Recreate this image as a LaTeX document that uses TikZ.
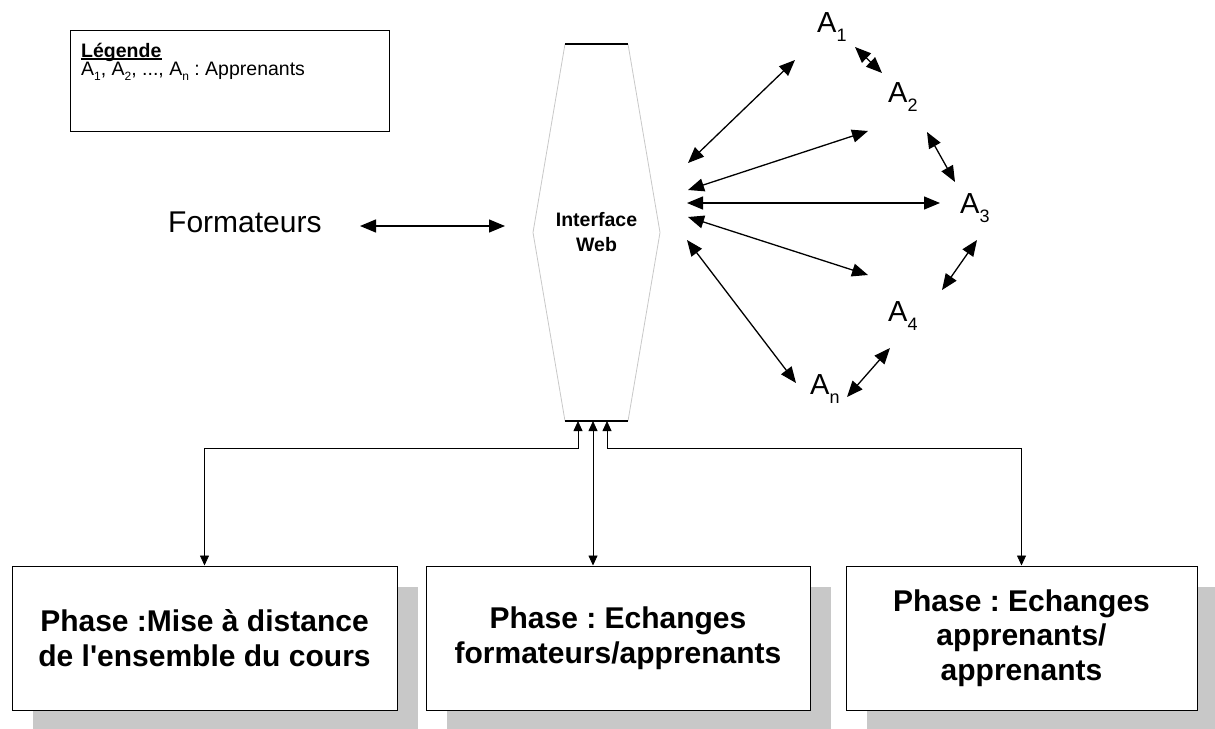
\documentclass[tikz,border=0pt]{standalone}
\usepackage{fontspec}
\setmainfont{Liberation Sans}
\usetikzlibrary{arrows.meta,shadows}
\definecolor{shadowgray}{RGB}{200,200,200}
\definecolor{hexgray}{RGB}{200,200,200}
\newcommand{\bigsub}[1]{\raisebox{-9pt}{\fontsize{18}{18}\selectfont #1}}
\newcommand{\smallsub}[1]{\raisebox{-5pt}{\fontsize{12}{12}\selectfont #1}}
\frenchspacing
\begin{document}
\begin{tikzpicture}[x=1pt,y=-1pt,
  bigarrow/.style={{Triangle[length=16pt,width=13pt]}-{Triangle[length=16pt,width=13pt]}, line width=1.3pt},
  lnk/.style={{Triangle[length=10pt,width=9pt]}-{Triangle[length=10pt,width=9pt]}, line width=0.8pt},
  phase/.style={draw=black, line width=1pt, fill=white, minimum height=144pt, align=center,
    font=\fontsize{30}{34.5}\selectfont\bfseries,
    drop shadow={shadow xshift=21pt, shadow yshift=-21pt, fill=shadowgray, opacity=1}},
  alabel/.style={anchor=base west, inner sep=0pt, font=\fontsize{29}{34}\selectfont},
  plain/.style={anchor=base west, inner sep=0pt}
]
\useasboundingbox (0,0) rectangle (1215,728);

% legend
\node[draw, line width=0.8pt, minimum width=319pt, minimum height=101pt, anchor=north west, inner sep=0pt] (legend) at (70,30) {};
\node[plain, font=\fontsize{19.5}{23}\selectfont\bfseries] (leg1) at (81,57) {Légende};
\draw[line width=1.2pt] ([yshift=-2pt]leg1.base west) -- ([yshift=-2pt]leg1.base east);
\node[plain, font=\fontsize{19.5}{23}\selectfont] (leg2) at (81,75) {A\smallsub{1}, A\smallsub{2}, ..., A\smallsub{n} : Apprenants};

% interface web hexagon
\coordinate (ht1) at (565,44);
\coordinate (ht2) at (628,44);
\coordinate (hr) at (660,232.5);
\coordinate (hb2) at (628,421);
\coordinate (hb1) at (565,421);
\coordinate (hl) at (533,232.5);
\draw[hexgray, line width=0.8pt] (ht1) -- (hl) -- (hb1) (ht2) -- (hr) -- (hb2);
\draw[black, line width=1.3pt] (ht1) -- (ht2) (hb1) -- (hb2);
\node[font=\fontsize{19.5}{25}\selectfont\bfseries, align=center] (web) at (596.5,232) {Interface\\Web};

% Formateurs
\node[plain, font=\fontsize{30}{34}\selectfont] (form) at (168,232) {Formateurs};
\coordinate (f1) at (360,226);
\coordinate (f2) at (505,226);
\draw[bigarrow] (f1) -- (f2);

% learners
\node[alabel] (a1) at (817,32) {A\bigsub{1}};
\node[alabel] (a2) at (888,102) {A\bigsub{2}};
\node[alabel] (a3) at (960,213) {A\bigsub{3}};
\node[alabel] (a4) at (888,321) {A\bigsub{4}};
\node[alabel] (an) at (810,394) {A\bigsub{n}};

\coordinate (w1) at (688,163);
\coordinate (w2) at (688,190);
\coordinate (w3) at (687,203);
\coordinate (w4) at (688,217);
\coordinate (w5) at (687,240);
\coordinate (t1) at (795,60);
\coordinate (t2) at (868,131);
\coordinate (t3) at (940,203);
\coordinate (t4) at (868,275);
\coordinate (t5) at (796,383);
\draw[bigarrow] (w1) -- (t1);
\draw[bigarrow] (w2) -- (t2);
\draw[bigarrow] (w3) -- (t3);
\draw[bigarrow] (w4) -- (t4);
\draw[bigarrow] (w5) -- (t5);

\coordinate (p12a) at (855,47);
\coordinate (p12b) at (882,73);
\coordinate (p23a) at (927,132);
\coordinate (p23b) at (955,182);
\coordinate (p34a) at (977,240);
\coordinate (p34b) at (942,290);
\coordinate (p4na) at (890,348);
\coordinate (p4nb) at (847,397);
\draw[bigarrow] (p12a) -- (p12b);
\draw[bigarrow] (p23a) -- (p23b);
\draw[bigarrow] (p34a) -- (p34b);
\draw[bigarrow] (p4na) -- (p4nb);

% phase boxes
\node[phase, minimum width=385pt] (b1) at (204.5,638) {Phase :Mise à distance\\de l\textquotesingle ensemble du cours};
\node[phase, minimum width=384pt] (b2) at (618,638) {Phase : Echanges\\formateurs/apprenants};
\node[phase, minimum width=351pt] (b3) at (1021.5,638) {Phase : Echanges\\apprenants/\\apprenants};

% links to the interface
\coordinate (hc1) at (578,421);
\coordinate (hc2) at (593,421);
\coordinate (hc3) at (607,421);
\draw[lnk] (hc1) -- ++(0,27) -| (b1.north);
\draw[lnk] (hc2) -- (hc2 |- b2.north);
\draw[lnk] (hc3) -- ++(0,27) -| (b3.north);
\end{tikzpicture}
\end{document}
